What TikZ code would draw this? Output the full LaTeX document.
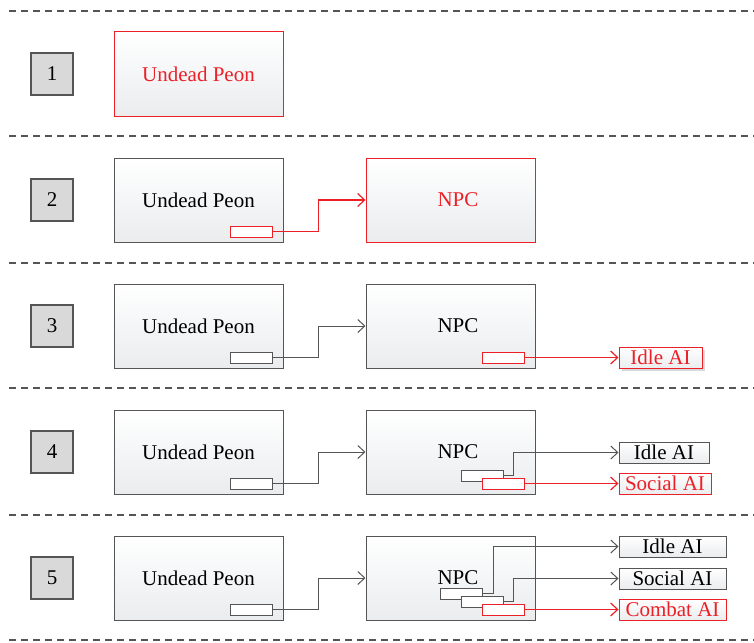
\documentclass[tikz,border=0pt]{standalone}
\usepackage{fontspec}
\setmainfont{Liberation Serif}
\usepackage{tikz}
\usetikzlibrary{positioning,arrows.meta,shadows}

\definecolor{edgegray}{RGB}{85,85,85}
\definecolor{numgray}{RGB}{217,217,217}
\definecolor{newred}{RGB}{236,32,39}
\definecolor{boxbottom}{RGB}{234,236,238}

\begin{document}
\begin{tikzpicture}[x=1pt,y=-1pt,
  numbox/.style={rectangle,draw=edgegray,line width=1.2pt,fill=numgray,minimum size=42pt,inner sep=0pt,font=\fontsize{21}{24}\selectfont},
  unit/.style={rectangle,draw=edgegray,line width=1pt,top color=white,bottom color=boxbottom,minimum width=169pt,minimum height=84pt,inner sep=0pt,font=\fontsize{21}{24}\selectfont},
  newunit/.style={unit,draw=newred,text=newred},
  port/.style={rectangle,draw=edgegray,line width=1pt,fill=white,minimum width=42pt,minimum height=11pt,inner sep=0pt},
  newport/.style={port,draw=newred},
  aibox/.style={rectangle,draw=edgegray,line width=1pt,top color=white,bottom color=boxbottom,minimum height=21pt,inner sep=0pt,font=\fontsize{21}{24}\selectfont},
  newai/.style={aibox,draw=newred,text=newred},
  link/.style={-{Straight Barb[length=7pt,width=13pt]},draw=edgegray,line width=1pt},
  newlink/.style={link,draw=newred,line width=1.2pt},
  separator/.style={draw=edgegray,line width=1.1pt,dash pattern=on 7pt off 5pt},
]
\useasboundingbox (0,0) rectangle (754,642);

% === SEPARATORS ===
\foreach \y in {11,136,263,388,515,640}
  \draw[separator] (9,\y) -- (754,\y);

% === STEP 1 ===
\node[numbox] (num1) at (52,74) {1};
\node[newunit] (peon1) at (198.5,74) {Undead Peon};

% === STEP 2 ===
\node[numbox] (num2) at (52,200) {2};
\node[unit] (peon2) at (198.5,200) {Undead Peon};
\node[newport] (peonport2) at (251,231.5) {};
\node[newunit] (npc2) at (450.5,200) {\hspace*{15pt}NPC};
\draw[newlink] (peonport2.east) -- ++(46,0) |- (npc2.west);

% === STEP 3 ===
\node[numbox] (num3) at (52,326) {3};
\node[unit] (peon3) at (198.5,326) {Undead Peon};
\node[port] (peonport3) at (251,357.5) {};
\node[unit] (npc3) at (450.5,326) {\hspace*{15pt}NPC};
\node[newport] (idleport3) at (503,357.5) {};
\node[newai,minimum width=83pt,drop shadow={shadow xshift=3pt,shadow yshift=-3pt,fill=black!25,opacity=0.6}] (idle3) at (660.5,357.5) {Idle AI};
\draw[link] (peonport3.east) -- ++(46,0) |- (npc3.west);
\draw[newlink] (idleport3.east) -- (idle3.west);

% === STEP 4 ===
\node[numbox] (num4) at (52,452) {4};
\node[unit] (peon4) at (198.5,452) {Undead Peon};
\node[port] (peonport4) at (251,483.5) {};
\node[unit] (npc4) at (450.5,452) {\hspace*{15pt}NPC};
\node[port] (idleport4) at (482,475.5) {};
\node[newport] (socialport4) at (503,483.5) {};
\node[aibox,minimum width=90pt] (idle4) at (664,452.5) {Idle AI};
\node[newai,minimum width=92pt] (social4) at (665,483.5) {Social AI};
\draw[link] (peonport4.east) -- ++(46,0) |- (npc4.west);
\draw[link] (idleport4.east) -- ++(10,0) |- (idle4.west);
\draw[newlink] (socialport4.east) -- (social4.west);

% === STEP 5 ===
\node[numbox] (num5) at (52,578) {5};
\node[unit] (peon5) at (198.5,578) {Undead Peon};
\node[port] (peonport5) at (251,609.5) {};
\node[unit] (npc5) at (450.5,578) {\hspace*{15pt}NPC};
\node[port] (idleport5) at (461,593.5) {};
\node[port] (socialport5) at (482,601.5) {};
\node[newport] (combatport5) at (503,609.5) {};
\node[aibox,minimum width=107pt] (idle5) at (672.5,546.5) {Idle AI};
\node[aibox,minimum width=107pt] (social5) at (672.5,578.5) {Social AI};
\node[newai,minimum width=107pt] (combat5) at (672.5,609.5) {Combat AI};
\draw[link] (peonport5.east) -- ++(46,0) |- (npc5.west);
\draw[link] (idleport5.east) -- ++(11,0) |- (idle5.west);
\draw[link] (socialport5.east) -- ++(10,0) |- (social5.west);
\draw[newlink] (combatport5.east) -- (combat5.west);

\end{tikzpicture}
\end{document}
